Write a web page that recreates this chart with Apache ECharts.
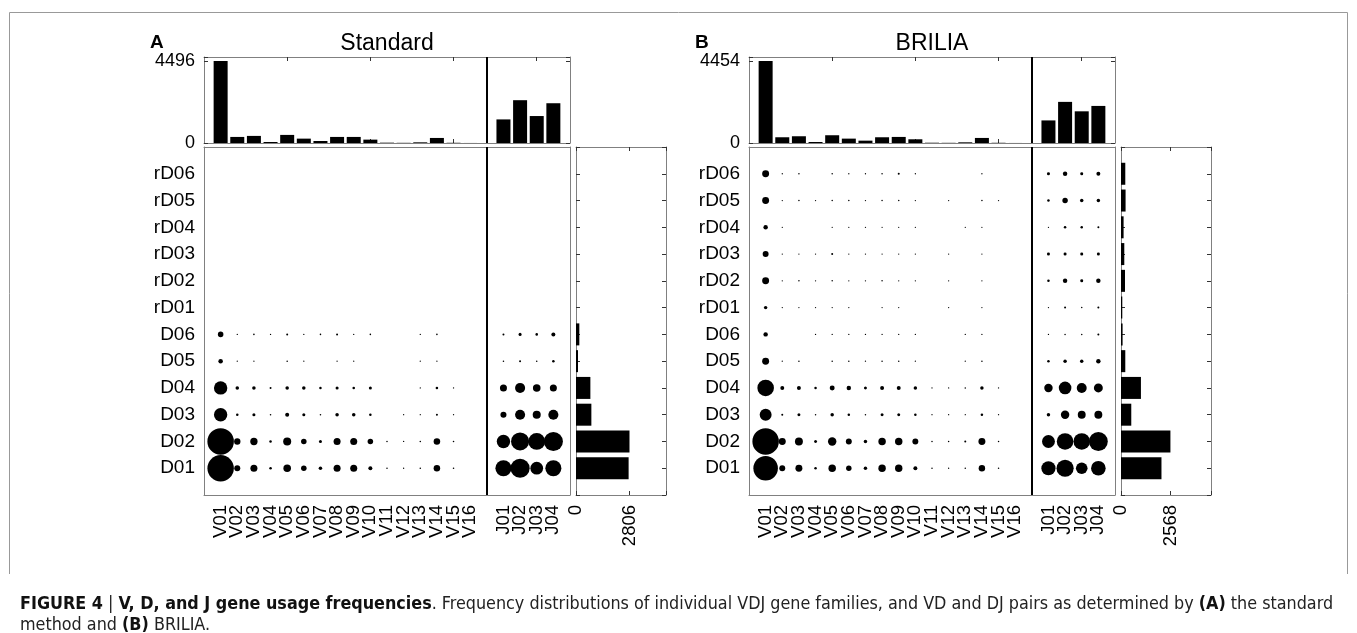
<!DOCTYPE html>
<html><head><meta charset="utf-8">
<script src="https://cdn.jsdelivr.net/npm/echarts@6/dist/echarts.min.js"></script>
<style>html,body{margin:0;padding:0;background:#fff}#c{width:1357px;height:633px}</style>
</head><body><div id="c"></div><script>
// ---------- categories ----------
const vGenes = ['V01','V02','V03','V04','V05','V06','V07','V08','V09','V10','V11','V12','V13','V14','V15','V16'];
const jGenes = ['J01','J02','J03','J04'];
const dGenes = ['D01','D02','D03','D04','D05','D06','rD01','rD02','rD03','rD04','rD05','rD06'];

// ---------- Panel A: Standard ----------
const stdVHist = [4496, 333, 389, 55, 444, 240, 111, 333, 333, 185, 18, 10, 37, 277, 12, 2];
const stdJHist = [1295, 2350, 1480, 2183];
const stdDTotals = [2760, 2806, 806, 754, 105, 175, 0, 0, 0, 0, 0, 0];
// rows follow dGenes (D01 ... rD06), columns follow vGenes
const stdVD = [
  [1740, 90, 123, 16, 142, 76, 31, 123, 123, 40, 6, 3, 6, 106, 6, 0],
  [1750, 100, 134, 16, 161, 76, 23, 123, 123, 76, 6, 3, 6, 106, 6, 0],
  [446, 16, 23, 6, 40, 23, 6, 31, 31, 16, 0, 3, 3, 10, 3, 0],
  [446, 31, 31, 10, 31, 31, 16, 23, 16, 23, 0, 0, 3, 16, 3, 0],
  [51, 3, 3, 0, 6, 3, 0, 2, 2, 0, 0, 0, 3, 3, 0, 0],
  [76, 3, 6, 3, 10, 3, 6, 10, 3, 6, 0, 0, 3, 6, 0, 0],
  [0,0,0,0,0,0,0,0,0,0,0,0,0,0,0,0],
  [0,0,0,0,0,0,0,0,0,0,0,0,0,0,0,0],
  [0,0,0,0,0,0,0,0,0,0,0,0,0,0,0,0],
  [0,0,0,0,0,0,0,0,0,0,0,0,0,0,0,0],
  [0,0,0,0,0,0,0,0,0,0,0,0,0,0,0,0],
  [0,0,0,0,0,0,0,0,0,0,0,0,0,0,0,0]
];
// rows follow dGenes, columns follow jGenes
const stdDJ = [
  [645, 910, 406, 640],
  [446, 816, 703, 910],
  [91, 252, 161, 252],
  [123, 252, 142, 123],
  [6, 10, 6, 16],
  [10, 23, 16, 40],
  [0,0,0,0],[0,0,0,0],[0,0,0,0],[0,0,0,0],[0,0,0,0],[0,0,0,0]
];

// ---------- Panel B: BRILIA ----------
const briVHist = [4454, 312, 367, 55, 422, 238, 128, 312, 330, 202, 15, 10, 37, 275, 12, 2];
const briJHist = [1228, 2236, 1723, 2016];
const briDTotals = [2103, 2568, 534, 1036, 223, 83, 67, 207, 171, 135, 238, 223];
const briVD = [
  [1339, 79, 108, 14, 123, 66, 27, 123, 123, 35, 5, 2, 5, 93, 5, 0],
  [1565, 108, 140, 20, 159, 79, 27, 123, 123, 79, 5, 5, 9, 108, 5, 0],
  [316, 9, 20, 5, 27, 14, 5, 20, 20, 14, 1, 1, 2, 14, 2, 0],
  [612, 35, 35, 14, 55, 44, 20, 35, 35, 27, 1, 2, 5, 27, 2, 0],
  [108, 1, 5, 0, 5, 5, 1, 5, 5, 1, 0, 0, 1, 5, 0, 0],
  [44, 0, 0, 1, 2, 2, 2, 2, 1, 1, 0, 0, 2, 2, 0, 0],
  [27, 1, 2, 1, 2, 2, 0, 2, 1, 0, 0, 1, 0, 1, 0, 0],
  [108, 2, 5, 1, 5, 2, 1, 5, 2, 1, 0, 1, 0, 2, 0, 0],
  [79, 1, 1, 1, 9, 2, 1, 2, 2, 1, 0, 1, 0, 2, 0, 0],
  [44, 2, 0, 0, 1, 2, 2, 2, 1, 1, 0, 0, 1, 2, 0, 0],
  [108, 2, 5, 1, 5, 5, 1, 5, 5, 1, 0, 1, 0, 5, 1, 0],
  [108, 2, 5, 0, 5, 2, 1, 5, 9, 1, 0, 0, 0, 1, 0, 0]
];
const briDJ = [
  [449, 657, 300, 474],
  [371, 612, 612, 792],
  [27, 159, 140, 140],
  [159, 354, 219, 178],
  [14, 27, 27, 44],
  [2, 5, 5, 9],
  [2, 9, 5, 9],
  [14, 44, 20, 44],
  [20, 20, 20, 20],
  [2, 14, 14, 9],
  [14, 66, 27, 27],
  [20, 44, 20, 35]
];

// ---------- build ----------
const FONT = "'Liberation Sans', Arial, Helvetica, sans-serif";
const GRAY = '#808080';
const xCats = ['', ...vGenes, ' ', ...jGenes, '  '];
const yCats = ['', ...dGenes, ' '];
const dividerIdx = vGenes.length + 1;

const grid = [], xAxis = [], yAxis = [], series = [], graphic = [];

const divider = {
  silent: true, symbol: ['none', 'none'], label: { show: false }, animation: false,
  lineStyle: { color: '#000', width: 2, type: 'solid' },
  data: [{ xAxis: dividerIdx }]
};
const lineOnly = { show: true, onZero: false, lineStyle: { color: GRAY, width: 1 } };

function panel(dx, letter, title, vHist, jHist, dTot, vd, dj) {
  const g = grid.length;
  const vmax = Math.max(...vHist);
  const lim = vmax * 1.05;
  const dmax = Math.max(...dTot);
  let cellMax = 0;
  vd.forEach(r => r.forEach(v => cellMax = Math.max(cellMax, v)));
  dj.forEach(r => r.forEach(v => cellMax = Math.max(cellMax, v)));
  const K = 26.5 / Math.sqrt(cellMax);

  grid.push({ left: 204 + dx, top: 57, width: 366, height: 86 });
  grid.push({ left: 204 + dx, top: 147, width: 366, height: 348 });
  grid.push({ left: 576 + dx, top: 147, width: 90, height: 348 });

  const xa = xAxis.length, ya = yAxis.length;
  const tick5 = { show: true, inside: true, length: 4, lineStyle: { color: '#333' },
                  interval: (i) => i % 5 === 0 && i > 0 && i < xCats.length - 1 };
  // histogram axes
  xAxis.push({ gridIndex: g, type: 'category', data: xCats, boundaryGap: false, axisLine: lineOnly, axisTick: tick5, axisLabel: { show: false } });
  xAxis.push({ gridIndex: g, type: 'category', data: xCats, boundaryGap: false, position: 'top', axisLine: lineOnly, axisTick: tick5, axisLabel: { show: false } });
  const histLabel = { fontSize: 18, color: '#000', fontFamily: FONT, margin: 9,
                      formatter: v => (v === 0 || v === vmax) ? String(v) : '' };
  yAxis.push({ gridIndex: g, type: 'value', min: 0, max: lim, interval: vmax, axisLine: lineOnly,
               axisTick: { show: true, inside: true, length: 4, lineStyle: { color: '#333' } }, axisLabel: histLabel, splitLine: { show: false } });
  yAxis.push({ gridIndex: g, type: 'value', min: 0, max: lim, interval: vmax, position: 'right', axisLine: lineOnly,
               axisTick: { show: true, inside: true, length: 4, lineStyle: { color: '#333' } }, axisLabel: { show: false }, splitLine: { show: false } });
  // bubble axes
  xAxis.push({ gridIndex: g + 1, type: 'category', data: xCats, boundaryGap: false, axisLine: lineOnly, axisTick: { show: false },
               axisLabel: { interval: 0, rotate: 90, fontSize: 18.5, color: '#000', fontFamily: FONT, margin: 10 } });
  xAxis.push({ gridIndex: g + 1, type: 'category', data: xCats, boundaryGap: false, position: 'top', axisLine: lineOnly, axisTick: { show: false }, axisLabel: { show: false } });
  yAxis.push({ gridIndex: g + 1, type: 'category', data: yCats, boundaryGap: false, axisLine: lineOnly, axisTick: { show: false },
               axisLabel: { interval: 0, fontSize: 19, color: '#000', fontFamily: FONT, margin: 9 } });
  yAxis.push({ gridIndex: g + 1, type: 'category', data: yCats, boundaryGap: false, position: 'right', axisLine: lineOnly, axisTick: { show: false }, axisLabel: { show: false } });
  // D total bar axes
  const dLabel = { rotate: 90, fontSize: 18.5, color: '#000', fontFamily: FONT, margin: 10,
                   formatter: v => (v === 0 || v === dmax) ? String(v) : '' };
  const dTick = { show: true, inside: true, length: 4, lineStyle: { color: '#333' } };
  xAxis.push({ gridIndex: g + 2, type: 'value', min: 0, max: lim, interval: dmax, axisLine: lineOnly, axisTick: dTick, axisLabel: dLabel, splitLine: { show: false } });
  xAxis.push({ gridIndex: g + 2, type: 'value', min: 0, max: lim, interval: dmax, position: 'top', axisLine: lineOnly, axisTick: dTick, axisLabel: { show: false }, splitLine: { show: false } });
  yAxis.push({ gridIndex: g + 2, type: 'category', data: yCats, boundaryGap: false, axisLine: lineOnly, axisTick: dTick, axisLabel: { show: false } });
  yAxis.push({ gridIndex: g + 2, type: 'category', data: yCats, boundaryGap: false, position: 'right', axisLine: lineOnly, axisTick: dTick, axisLabel: { show: false } });

  // series
  series.push({ type: 'bar', xAxisIndex: xa, yAxisIndex: ya, barWidth: 14, itemStyle: { color: '#000' },
                data: [null, ...vHist, null, ...jHist, null], markLine: divider });
  const pts = [];
  dGenes.forEach((d, r) => {
    vGenes.forEach((v, c) => { if (vd[r][c] > 0) pts.push([v, d, vd[r][c]]); });
    jGenes.forEach((j, c) => { if (dj[r][c] > 0) pts.push([j, d, dj[r][c]]); });
  });
  series.push({ type: 'scatter', xAxisIndex: xa + 2, yAxisIndex: ya + 2, data: pts, itemStyle: { color: '#000', opacity: 1 },
                symbolSize: (val) => Math.max(1.3, K * Math.sqrt(val[2])), markLine: divider, clip: false });
  series.push({ type: 'bar', xAxisIndex: xa + 4, yAxisIndex: ya + 4, barWidth: 22, itemStyle: { color: '#000' },
                data: [null, ...dTot, null] });

  graphic.push({ type: 'text', x: 150 + dx, y: 43, style: { text: letter, font: 'bold 19px ' + FONT, fill: '#000', verticalAlign: 'middle' } });
  graphic.push({ type: 'text', x: 387 + dx, y: 44, style: { text: title, font: '23px ' + FONT, fill: '#000', align: 'center', verticalAlign: 'middle' } });
}

panel(0, 'A', 'Standard', stdVHist, stdJHist, stdDTotals, stdVD, stdDJ);
panel(545, 'B', 'BRILIA', briVHist, briJHist, briDTotals, briVD, briDJ);

// frame and caption
graphic.push({ type: 'polyline', shape: { points: [[9.5, 574], [9.5, 12.5], [1347.5, 12.5], [1347.5, 574]] },
               style: { stroke: '#999', lineWidth: 1, fill: null } });
const CAP = "'Liberation Sans Narrow', 'DejaVu Sans Condensed', 'Arial Narrow', sans-serif";
graphic.push({ type: 'text', x: 20, y: 594, style: {
  text: '{b|FIGURE 4}{r| | }{b|V, D, and J gene usage frequencies}{r|. Frequency distributions of individual VDJ gene families, and VD and DJ pairs as determined by }{b|(A)}{r| the standard}\n{r|method and }{b|(B)}{r| BRILIA.}',
  font: '17.8px ' + CAP, fill: '#222', lineHeight: 21,
  rich: { b: { fontWeight: 'bold', fontSize: 17.8, fontFamily: CAP, lineHeight: 21, fill: '#111' },
          r: { fontSize: 17.8, fontFamily: CAP, lineHeight: 21, fill: '#222' } }
} });

const chart = echarts.init(document.getElementById('c'), null, { renderer: 'canvas' });
chart.setOption({ animation: false, grid, xAxis, yAxis, series, graphic });
</script></body></html>
